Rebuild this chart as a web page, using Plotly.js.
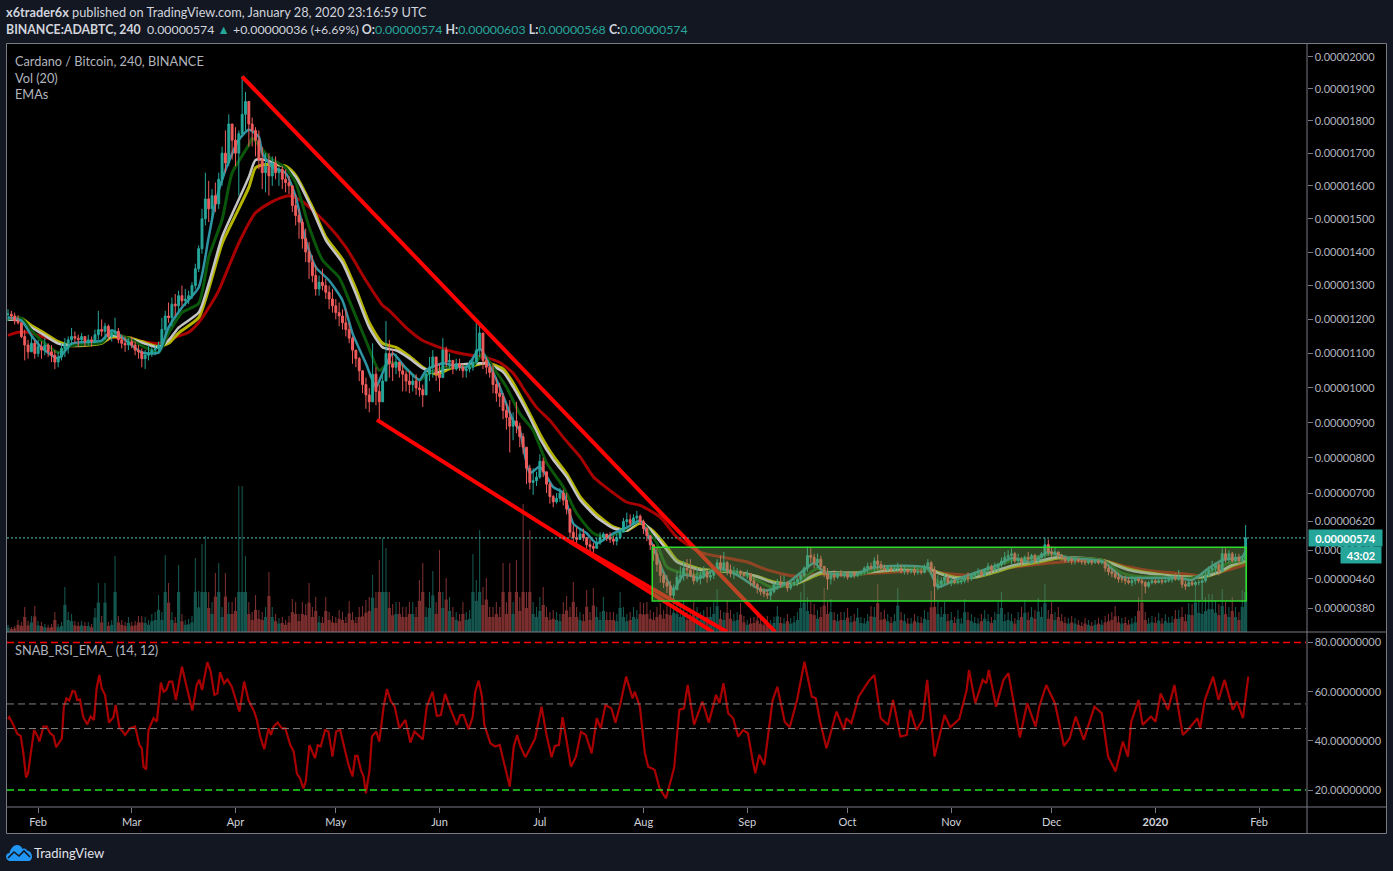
<!DOCTYPE html>
<html><head><meta charset="utf-8"><script src="https://cdn.plot.ly/plotly-3.0.1.min.js"></script>
<style>html,body{margin:0;padding:0;background:#131722;overflow:hidden}</style></head>
<body><div id="chart" style="width:1393px;height:871px"></div>
<script>
// Prices in units of 0.00000001 BTC, one candle per day from 2019-01-23
const candleHigh=[
1230,1225,1220,1212,1185,1170,1140,1155,1140,1140,1135,1145,1130,1125,1110,1105,1130,1145,1150,1175,
1165,1155,1160,1150,1155,1150,1170,1225,1200,1190,1185,1170,1205,1175,1155,1150,1145,1150,1135,1125,
1115,1110,1125,1120,1125,1135,1205,1225,1250,1265,1275,1285,1300,1290,1285,1310,1365,1420,1530,1640,
1615,1590,1610,1640,1720,1770,1820,1790,1780,1770,1940,1890,1840,1810,1780,1770,1720,1700,1700,1690,
1690,1660,1660,1650,1630,1590,1575,1530,1500,1470,1430,1390,1360,1330,1350,1320,1300,1290,1260,1250,
1230,1230,1190,1150,1110,1090,1040,1030,1000,1130,1060,1010,1040,1195,1140,1110,1100,1075,1070,1050,
1050,1040,1040,1020,1010,1050,1090,1110,1080,1070,1145,1120,1100,1080,1085,1085,1070,1065,1080,1085,
1190,1190,1130,1090,1070,1070,1030,1015,985,955,965,930,960,900,870,830,780,770,760,810,
800,760,730,695,700,715,710,700,640,610,604,600,600,575,570,560,575,590,590,585,
590,580,585,600,630,645,640,640,650,640,625,605,575,550,548,510,480,471,455,445,
480,495,510,515,515,490,490,480,495,485,480,495,515,525,535,510,500,495,490,485,
480,485,470,465,450,440,435,430,435,450,460,470,470,455,455,460,465,475,495,550,
548,530,530,525,495,490,480,485,480,485,480,480,482,480,480,485,495,505,505,520,
528,510,500,498,495,495,505,500,495,490,490,495,490,490,500,515,510,495,470,465,
475,475,465,460,458,460,470,478,475,480,490,485,490,505,500,505,505,520,535,540,
545,535,530,520,525,535,530,530,525,535,575,570,550,548,535,530,520,520,520,520,
518,515,515,512,512,515,515,512,512,500,490,485,478,470,470,465,468,465,462,460,
455,455,462,460,460,460,460,462,470,475,485,470,455,455,458,455,458,475,480,495,
510,505,505,545,545,540,535,530,530,525,610];
const candleLow=[
1195,1200,1185,1185,1145,1080,1085,1105,1085,1090,1085,1095,1090,1075,1055,1060,1080,1090,1100,1125,
1130,1120,1130,1120,1125,1120,1130,1140,1150,1140,1140,1135,1150,1130,1115,1105,1110,1115,1095,1085,
1060,1055,1080,1090,1095,1100,1115,1150,1190,1180,1210,1225,1240,1240,1245,1260,1290,1340,1395,1480,
1490,1500,1520,1530,1600,1640,1660,1680,1660,1570,1750,1770,1720,1720,1690,1650,1590,1580,1570,1600,
1620,1600,1590,1580,1575,1520,1480,1440,1410,1370,1320,1310,1270,1270,1285,1260,1230,1220,1200,1180,
1170,1150,1130,1070,1060,1020,985,940,930,985,950,910,960,1020,1030,1020,1040,1030,990,990,
985,990,980,975,945,990,1020,1030,1020,990,1045,1060,1055,1040,1050,1050,1030,1030,1045,1050,
1070,1090,1055,1040,1030,985,960,945,910,880,815,850,870,830,810,725,710,695,720,740,
745,700,670,660,670,675,665,640,575,555,548,570,565,545,535,530,545,555,565,565,
560,555,553,570,590,605,605,610,615,610,585,565,540,510,480,450,435,421,405,400,
430,450,455,460,465,445,450,445,460,450,455,460,475,480,480,470,465,460,470,465,
465,460,440,435,420,415,410,405,400,420,430,435,440,425,430,440,440,450,465,480,
505,490,490,485,465,430,445,455,460,465,462,458,465,462,465,470,472,475,485,480,
485,480,480,482,480,478,478,475,472,472,475,470,472,472,475,485,475,400,430,435,
445,445,440,445,445,445,448,450,455,460,470,465,470,475,475,480,480,490,500,510,
500,505,500,495,505,505,500,505,500,510,515,525,520,525,515,510,505,505,500,500,
505,500,498,500,498,502,500,500,480,470,465,460,450,450,445,445,440,445,448,445,
420,435,445,445,448,445,448,450,450,455,455,435,430,440,440,440,442,402,450,465,
475,475,470,480,505,505,505,505,500,500,505];
const candleClose=[
1215,1210,1195,1190,1150,1125,1105,1130,1100,1120,1110,1125,1105,1095,1075,1090,1115,1130,1140,1150,
1145,1140,1150,1135,1140,1135,1155,1170,1165,1180,1150,1160,1165,1140,1130,1125,1135,1125,1110,1105,
1085,1095,1100,1110,1115,1125,1170,1210,1205,1245,1240,1270,1255,1260,1270,1300,1350,1410,1500,1560,
1530,1570,1545,1620,1700,1670,1790,1740,1700,1760,1820,1860,1790,1770,1740,1680,1640,1660,1630,1670,
1640,1650,1620,1610,1600,1540,1510,1490,1440,1400,1370,1330,1290,1310,1300,1280,1260,1240,1220,1210,
1190,1170,1145,1110,1085,1050,1010,980,960,1040,990,960,1020,1100,1070,1060,1075,1050,1040,1020,
1010,1020,1000,995,980,1040,1060,1090,1040,1030,1110,1075,1080,1055,1070,1060,1050,1055,1060,1075,
1110,1160,1080,1060,1045,1010,985,975,935,915,890,905,890,860,830,770,730,735,745,790,
760,725,690,675,685,700,680,655,590,575,570,585,575,555,550,545,560,575,585,575,
570,565,575,590,620,625,615,630,635,620,600,580,555,530,500,470,450,440,415,430,
465,470,490,485,470,455,465,470,480,465,470,485,505,490,505,485,475,480,480,475,
470,475,455,445,435,425,420,415,425,445,450,445,450,435,445,450,460,470,490,525,
520,505,515,495,475,460,470,465,475,470,475,465,478,470,475,480,490,495,490,510,
500,490,485,490,485,488,490,480,485,480,485,478,482,478,495,505,485,440,445,455,
465,450,455,450,452,455,465,460,470,475,480,470,485,495,485,490,500,510,520,525,
530,510,515,505,520,515,525,510,520,530,555,535,530,535,525,520,510,515,510,515,
510,508,505,510,505,510,505,508,490,480,475,465,460,460,455,450,455,460,455,450,
440,450,455,450,455,452,455,458,465,460,465,445,440,450,445,450,450,455,470,485,
490,500,480,530,515,530,510,520,510,515,574];
const volume=[
7,5,6,12,10,25,11,16,26,11,10,8,7,8,20,8,10,45,20,18,11,10,11,10,10,8,24,49,16,49,
10,12,76,16,12,10,15,10,11,16,16,15,12,18,20,37,20,77,49,20,15,67,18,12,13,16,74,41,88,96,
40,30,59,69,25,59,30,30,35,146,146,76,30,20,37,22,20,25,60,25,18,14,15,12,16,33,30,18,30,28,
49,25,35,16,15,35,20,16,15,22,20,15,31,20,15,25,26,32,35,57,40,72,94,84,40,28,30,30,25,25,
30,30,25,52,69,25,40,61,30,82,40,54,35,25,20,18,30,20,22,78,52,102,45,54,25,25,30,25,69,30,
69,30,72,35,128,40,102,30,25,35,45,25,20,22,20,18,30,36,25,50,25,20,18,42,20,44,25,20,35,20,
20,20,18,40,25,18,20,25,22,30,29,30,22,20,25,29,22,30,28,32,30,25,32,20,22,30,25,20,22,25,
25,30,43,22,20,32,22,18,20,29,16,12,14,15,19,14,12,16,12,15,26,15,14,18,14,16,20,40,49,35,
30,28,22,25,44,30,33,20,18,20,20,24,16,18,24,15,14,18,26,25,48,20,22,18,15,18,44,20,18,14,
14,18,16,15,22,20,41,42,30,25,30,18,20,15,22,14,33,20,18,15,14,18,22,18,15,20,30,40,18,20,
18,14,20,25,32,20,25,22,34,25,48,22,30,20,25,18,15,14,16,14,12,10,14,12,10,12,14,12,16,18,
20,26,16,14,15,12,14,16,35,49,20,14,16,15,19,14,18,15,16,22,22,25,18,29,28,49,32,30,35,38,
38,32,28,43,30,25,35,25,20,42,85];

const emaFastDays=[0,4,7,10,15,19,28,31,36,40,45,48,52,57,60,62,65,69,72,75,76,79,83,86,89,92,96,100,103,107,110,112,115,119,123,125,130,137,141,144,147,151,153,156,159,163,166,169,173,176,181,185,189,192,193,196,199,202,207,212,218,225,228,233,238,241,244,250,253,258,264,275,278,283,289,296,300,306,311,317,327,333,339,345,350,354,359,363,369,370];
const emaFast=[1206,1197,1153,1118,1086,1129,1138,1168,1132,1103,1103,1176,1235,1294,1445,1548,1648,1741,1772,1750,1700,1658,1639,1567,1436,1355,1315,1256,1159,1071,1003,1044,1100,1057,1023,1051,1072,1060,1115,1065,1003,906,878,757,774,717,700,614,587,559,587,603,622,568,548,477,430,471,463,490,471,430,430,449,485,504,479,471,471,490,496,490,438,457,477,499,518,507,534,518,510,466,463,463,463,457,490,512,521,540];
const emaGreenDays=[0,4,7,10,15,19,28,31,36,40,45,48,52,57,60,64,67,72,73,75,78,83,86,90,94,99,102,107,111,114,118,123,126,131,139,142,145,149,153,157,161,166,170,175,179,184,189,192,194,197,205,211,218,224,228,234,238,242,245,250,254,259,264,275,278,284,289,294,300,306,312,318,327,333,339,345,347,354,359,365,369,370];
const emaGreen=[1203,1203,1168,1138,1103,1123,1132,1159,1144,1123,1103,1159,1220,1247,1385,1497,1639,1725,1746,1725,1688,1655,1609,1476,1376,1324,1256,1138,1051,1074,1065,1023,1044,1060,1065,1100,1060,1003,926,878,786,717,643,587,576,595,622,587,559,493,471,485,479,457,438,443,463,490,477,474,471,485,493,485,452,452,471,490,512,518,529,518,512,477,466,466,463,463,479,504,512,521];
const emaSlowDays=[0,4,7,10,15,19,28,31,36,40,45,48,51,57,60,64,68,72,74,77,83,86,91,95,100,104,108,112,116,120,124,128,133,139,143,148,151,156,159,163,167,171,176,181,185,189,193,197,200,207,213,218,224,229,235,238,243,250,256,264,275,278,283,289,294,301,309,314,327,335,345,352,357,362,366,370];
const emaGrey=[1200,1197,1176,1159,1129,1123,1132,1153,1144,1132,1118,1138,1176,1220,1306,1445,1536,1627,1679,1679,1655,1627,1527,1436,1367,1276,1176,1118,1109,1086,1057,1046,1065,1071,1071,1046,1003,915,855,794,746,681,632,601,595,622,587,540,507,485,482,479,466,449,446,457,479,477,477,485,490,477,463,466,479,499,512,521,512,485,471,466,466,479,499,512];
const emaYellow=[1200,1203,1182,1165,1135,1123,1130,1148,1146,1135,1120,1130,1160,1205,1290,1425,1510,1595,1655,1665,1660,1632,1535,1445,1378,1290,1190,1130,1118,1092,1060,1040,1060,1065,1073,1055,1015,925,868,805,755,690,640,605,595,615,592,548,512,488,482,478,467,452,446,455,475,476,478,484,490,478,465,465,476,495,508,518,512,488,472,466,465,478,496,508];
const emaRedDays=[0,3,6,9,13,16,19,28,31,37,45,48,54,57,61,63,69,74,79,84,88,95,101,107,112,114,119,124,129,134,139,143,147,151,155,158,162,166,171,175,181,185,189,195,200,207,215,221,227,235,243,249,265,275,279,286,293,299,306,315,327,335,342,352,357,362,366,370];
const emaRed=[1153,1162,1162,1153,1141,1129,1123,1132,1147,1141,1129,1141,1162,1191,1250,1285,1427,1518,1552,1570,1552,1488,1415,1315,1241,1226,1176,1138,1118,1103,1094,1088,1074,1043,985,944,906,858,803,746,700,674,665,632,576,534,518,507,485,468,474,471,479,485,477,471,477,490,499,507,512,493,482,474,468,477,488,499];

const rsiDays=[0,0.4,1.6,2.8,3.8,4.6,5.4,6,6.6,7.8,8.8,9.4,10.6,11.6,12.6,13.6,14.4,16.1,16.7,17.5,18.3,19.3,20,20.7,21.5,22.5,23.7,24.7,25.7,26.5,27.3,28,29,30.2,31.5,32.2,33.3,35,36.5,38,39.3,40,40.5,41.3,42,43.5,44.5,45.7,46.5,47.3,48.2,49.1,50.2,52,53.4,55.1,56.4,57.2,58,59.6,60.6,61.7,62.6,63.4,64.6,65.6,66.9,67.9,69.2,70.6,71.9,73.6,74.4,75.4,76.6,77.9,78.6,79.4,80.6,81.9,82.9,84.4,85.4,86.4,87.3,88.3,89,90.1,91.8,92.6,93.5,94.8,95.8,97,98.1,99.3,100.8,101.8,103,103.8,104.5,105.5,106.3,107,108.1,108.8,110.1,111,112.3,113.3,114.5,115.6,117,118.8,120.3,121.5,124,125.2,126.9,128.2,129.4,130.7,132.2,134.2,135.2,136.2,137.7,138.9,139.7,140.7,141.7,142.4,144.2,145.6,147,148.5,150,151.2,152.2,153.2,154.7,156.1,157.6,159.5,161,162.5,163.5,164.7,165.8,168.3,169.8,171.3,172.7,174.5,176,177.2,178.6,180.4,181.6,183,184.8,186.7,187.4,188.9,190.4,191.4,193.3,194.8,196.7,198.2,199.2,200.7,202.1,203.2,205.1,207.6,209.5,211.7,212.7,213.9,215.3,216.8,218.3,219.8,221.2,222.7,223.4,224.6,226.1,228.6,230,232.2,233.7,235.9,238.1,240.3,241.5,242.8,244.7,247.7,249.9,250.6,252.1,253.1,254.3,257.2,259,260.9,263.1,264.6,266.8,268.7,269.7,271.6,273.4,274.8,277,280,281.7,284.4,286.6,287.3,289.2,291.4,292.5,293.2,295.4,297.6,299.1,302.5,304.7,307.2,308.3,310.4,313,315.7,317.4,319.2,321.6,324.8,327,328.9,331.1,333.3,334.8,335.8,338,339.2,341.7,343.1,344.6,346.8,348.7,351.2,352.7,355.6,356.4,357.8,360.3,361.9,363.7,366.2,367.4,369.2,370.8];
const rsiValues=[48.8,49.6,46.5,42.8,42,35,25.1,26.8,32.9,44.4,42,39.7,45.8,45.8,43.1,42,37.4,41,53.9,57.3,56.4,60.3,60,56.6,56.9,49.6,46.7,49.9,48.5,61.4,66.8,61.4,58.7,47.4,49.6,54.6,45.5,42.4,45.1,45.8,38.3,37,29.5,28.4,44.4,49.2,47.8,63.7,60,60.7,64.1,64.1,56.6,70.2,62,52.3,62.7,64.8,60.7,72,68.1,58.7,59.3,67.9,63.4,65,62,57.3,51.9,64.1,56.6,51.9,48.5,41.7,36.6,45.1,42.4,45.8,47.4,45.1,45.1,38.3,35.6,26.6,24.8,20.7,23.4,38.3,32.9,38.3,37.7,44.4,43.8,33.6,43.8,44.4,36.3,30.2,25.5,33.9,33.9,28.2,25.5,18.7,28.2,41.7,43.8,39.7,53.9,61,56,53.9,45.1,48.5,39.3,43.8,40.6,53.9,60,50.1,50.5,59.1,53.2,46.5,50.5,50.5,44.7,49.6,60,64.5,58,46.5,39,37.7,38.3,29.5,21.4,37.7,42.4,37.7,33.3,37,41,53.9,42.4,33.3,37.9,38.3,49.6,29.5,33.6,43.7,42.4,34.9,49.2,45.1,54.6,53.2,47.4,54.6,66.1,57.3,60,53.9,34.9,29.5,28.2,20.7,16.6,24.1,29.5,52.6,53.2,62.7,46.5,56,47.4,58.7,55.3,63.4,51.2,49.2,41.7,44.4,43.1,31.5,26.8,34.3,30.2,56.6,62,47.8,45.5,56.6,72.2,58,57.3,47.8,37,51.9,44.4,49.2,47.2,51.9,58,64.1,66.8,49.2,46.5,56.6,41.7,42.4,52.6,44.4,48.5,64.8,33.6,50.5,45.5,48.9,60.7,68.8,55.3,64.8,63.4,68.8,53.9,64.8,67.5,41.4,55.3,45.8,53.9,62.7,55.3,37.9,41,49.9,40.4,53.9,51.2,33.6,27.5,39.7,33.6,47.8,56.6,46.5,49.9,47.8,59.3,52.6,62.7,42.4,44.4,49.2,45.1,56.6,66.1,56.6,64.8,52.6,56,49.2,66.1];

const wedgeUpperDays=[70,229.4], wedgeUpper=[1938,314];
const wedgeLowerDays=[110.3,210.8], wedgeLower=[908,314];
const wedgeInnerDays=[168,215], wedgeInner=[565,314];
const boxDays=[192.6,370.2], boxPrices=[399,548];
const lastPrice=574;
const rsiLevels=[80,55,45,20];
const rsiLevelColors=['#ff0000','#808080','#808080','#22e022'];
const rsiLevelWidths=[1.5,1,1,1.5];
const priceTicks=[2000,1900,1800,1700,1600,1500,1400,1300,1200,1100,1000,900,800,700,620,540,460,380];
const rsiTicks=[80,60,40,20];
const monthTicks=['2019-02-01','2019-03-01','2019-04-01','2019-05-01','2019-06-01','2019-07-01','2019-08-01','2019-09-01','2019-10-01','2019-11-01','2019-12-01','2020-01-01','2020-02-01'];
const monthLabels=['Feb','Mar','Apr','May','Jun','Jul','Aug','Sep','Oct','Nov','Dec','<b>2020</b>','Feb'];

const W=1393,H=871;
const FONT='Lato, "Open Sans", sans-serif';
const T0=Date.UTC(2019,0,23);
const day=d=>new Date(T0+d*864e5).toISOString();
// The source chart's price scale is very slightly compressive
const scale=p=>{const d=p-380;return 0.364*d-1.47e-5*d*d;};
const px=x=>x/W, py=y=>1-y/H;
const candleOpen=candleClose.map((c,i)=>i?candleClose[i-1]:candleHigh[0]-15);
const allDays=candleClose.map((_,i)=>day(i));
const TEAL='#26a69a',RED='#f05c5c';
const volColors=candleClose.map((c,i)=>c>=candleOpen[i]?'#15564f':'#7a2e2e');

const ema=(days,vals,color,w)=>({type:'scatter',mode:'lines',x:days.map(day),y:vals.map(scale),yaxis:'y2',
  line:{color:color,width:w||3,shape:'spline',smoothing:0.6},hoverinfo:'skip'});
const wedge=(days,vals)=>({type:'scatter',mode:'lines',x:days.map(day),y:vals.map(scale),yaxis:'y5',
  line:{color:'#ff0000',width:4},hoverinfo:'skip'});

const traces=[
 // the dense mass of the volume pane, then its thin spikes
 {type:'bar',x:allDays,y:volume.map(v=>Math.min(v*0.6,40)),yaxis:'y',width:864e5*0.95,marker:{color:volColors,line:{width:0}},hoverinfo:'skip'},
 {type:'bar',x:allDays,y:volume,yaxis:'y',width:864e5*0.32,marker:{color:volColors,line:{width:0}},hoverinfo:'skip'},
 ema(emaRedDays,emaRed,'#a80000'),
 ema(emaSlowDays,emaYellow,'#b4b400'),
 ema(emaSlowDays,emaGrey,'#c4c4c4',2.5),
 ema(emaGreenDays,emaGreen,'#0a560a'),
 ema(emaFastDays,emaFast,'#2e94a4',2.5),
 {type:'candlestick',x:allDays,open:candleOpen.map(scale),high:candleHigh.map(scale),low:candleLow.map(scale),close:candleClose.map(scale),yaxis:'y4',
  whiskerwidth:0,increasing:{line:{color:TEAL,width:1},fillcolor:TEAL},decreasing:{line:{color:RED,width:1},fillcolor:RED},hoverinfo:'skip'},
 wedge(wedgeUpperDays,wedgeUpper),wedge(wedgeLowerDays,wedgeLower),wedge(wedgeInnerDays,wedgeInner),
 {type:'scatter',mode:'lines',x:rsiDays.map(day),y:rsiValues,yaxis:'y3',line:{color:'#a80000',width:2.2},hoverinfo:'skip'}
];

const rule=(x0,y0,x1,y1)=>({type:'line',xref:'paper',yref:'paper',x0:px(x0),y0:py(y0),x1:px(x1),y1:py(y1),line:{color:'#787b86',width:1},layer:'above'});
const shapes=[
 {type:'rect',xref:'paper',yref:'paper',x0:px(6.5),x1:px(1386.5),y0:py(43.5),y1:py(833.5),fillcolor:'#000',line:{color:'#787b86',width:1},layer:'below'},
 rule(1307,44,1307,833),rule(7,632,1386,632),rule(7,807,1386,807),
 {type:'rect',xref:'x',yref:'y2',x0:day(boxDays[0]),x1:day(boxDays[1]),y0:scale(boxPrices[0]),y1:scale(boxPrices[1]),
  fillcolor:'rgba(109,153,80,0.45)',line:{color:'#2edc2e',width:1.5},layer:'above'},
 {type:'line',xref:'paper',yref:'y2',x0:px(7),x1:px(1306),y0:scale(lastPrice),y1:scale(lastPrice),line:{color:'#5fc4ba',width:1,dash:'2px,2px'},layer:'above'}
].concat(rsiLevels.map((v,i)=>({type:'line',xref:'paper',yref:'y3',x0:px(7),x1:px(1306),y0:v,y1:v,
  line:{color:rsiLevelColors[i],width:rsiLevelWidths[i],dash:'7px,4px'},layer:'above'})));

const G='#d1d4dc',V='#b2b5be',TS=12.75;
const txt=(x,y,text,size,color)=>({xref:'paper',yref:'paper',x:px(x-2),y:py(y),xanchor:'left',yanchor:'middle',showarrow:false,text:text,
  align:'left',font:{family:FONT,size:size||TS,color:color||G}});
const t=s=>`<span style="color:${TEAL}">${s}</span>`;
const annotations=[
 txt(6,12.5,'<b>x6trader6x</b> published on TradingView.com, January 28, 2020 23:16:59 UTC'),
 txt(6,29.5,`<b>BINANCE:ADABTC, 240</b>  0.00000574 ${t('▲')} +0.00000036 (+6.69%) <b>O:</b>${t('0.00000574')} <b>H:</b>${t('0.00000603')} <b>L:</b>${t('0.00000568')} <b>C:</b>${t('0.00000574')}`,12.35),
 txt(15,60.5,'Cardano / Bitcoin, 240, BINANCE',TS,V),
 txt(15,77.5,'Vol (20)',TS,V),
 txt(15,94.5,'EMAs',TS,V),
 txt(15,649.5,'SNAB_RSI_EMA_ (14, 12)',TS,V),
 txt(34,853,'TradingView',13,'#e0e3eb'),
 {xref:'paper',yref:'paper',x:px(1307.5),y:py(537.5),xanchor:'left',yanchor:'middle',showarrow:false,text:'<b>0.00000574</b>',width:73,height:16,bgcolor:TEAL,borderpad:0,align:'center',font:{family:FONT,size:11,color:'#fff'}},
 {xref:'paper',yref:'paper',x:px(1340),y:py(555),xanchor:'left',yanchor:'middle',showarrow:false,text:'<b>43:02</b>',width:40,height:16,bgcolor:TEAL,borderpad:0,align:'center',font:{family:FONT,size:11,color:'#fff'}}
];

const logo='data:image/svg+xml;utf8,'+encodeURIComponent('<svg xmlns="http://www.w3.org/2000/svg" viewBox="0 0 26 16"><path fill="#2196f3" d="M3 16C1 15 0 13 0 11.5 0 9.5 1.5 8 3.5 8 4.5 3.5 8 0 11 0c2.500 0 4.500 1.500 5.500 4C18 3 20 3.500 21 5.500 24 6 26 8.500 26 11.500 26 13.500 25 15 23.500 16Z"/><path fill="none" stroke="#131722" stroke-width="1.600" d="M2 13 8 7 13 11 18 6 24 12"/></svg>');

const hiddenPrice={overlaying:'y',anchor:'x',range:[-24,564],visible:false,fixedrange:true};
const layout={width:W,height:H,autosize:false,margin:{l:0,r:0,t:0,b:0},paper_bgcolor:'#131722',plot_bgcolor:'rgba(0,0,0,0)',
 showlegend:false,dragmode:false,boxgap:0.2,barmode:'overlay',hovermode:false,
 font:{family:FONT,size:11,color:V},
 xaxis:{type:'date',domain:[px(7),px(1306.5)],range:[day(-0.3),day(388.2)],anchor:'y3',rangeslider:{visible:false},showgrid:false,zeroline:false,
   tickmode:'array',tickvals:monthTicks,ticktext:monthLabels,ticks:'outside',ticklen:5,tickcolor:'#787b86',tickfont:{family:FONT,size:11,color:G},showline:false},
 yaxis:{domain:[py(632),py(44)],range:[0,588],visible:false,fixedrange:true},
 yaxis2:{overlaying:'y',side:'right',anchor:'x',range:[-24,564],showgrid:false,zeroline:false,showline:false,
   tickmode:'array',tickvals:priceTicks.map(scale),ticktext:priceTicks.map(p=>(p/1e8).toFixed(8)),ticks:'outside',ticklen:5,tickcolor:'#787b86',tickfont:{family:FONT,size:11,color:V}},
 yaxis3:{domain:[py(807),py(632)],side:'right',anchor:'x',range:[13.09,84.27],showgrid:false,zeroline:false,showline:false,
   tickmode:'array',tickvals:rsiTicks,ticktext:rsiTicks.map(v=>v.toFixed(8)),ticks:'outside',ticklen:5,tickcolor:'#787b86',tickfont:{family:FONT,size:11,color:V}},
 yaxis4:hiddenPrice,yaxis5:hiddenPrice,
 shapes:shapes,annotations:annotations,
 images:[{source:logo,xref:'paper',yref:'paper',x:px(6),y:py(845),sizex:px(26),sizey:16/H,sizing:'stretch',xanchor:'left',yanchor:'top',layer:'above'}]
};
Plotly.newPlot('chart',traces,layout,{displayModeBar:false,staticPlot:true});
</script></body></html>
